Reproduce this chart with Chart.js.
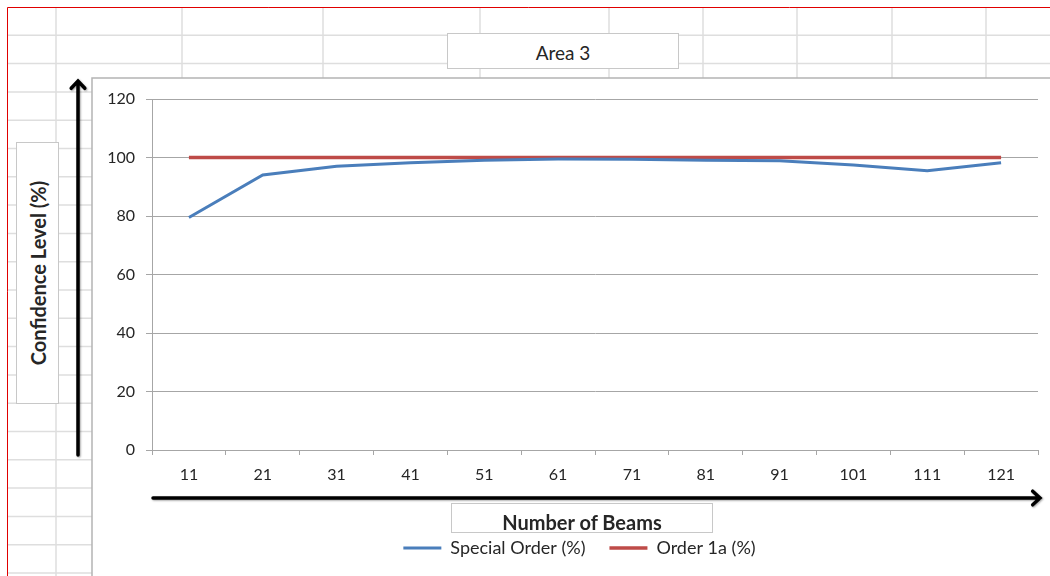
<!DOCTYPE html>
<html>
<head>
<meta charset="utf-8">
<script src="https://cdn.jsdelivr.net/npm/chart.js@4.4.0/dist/chart.umd.min.js"></script>
<style>
    html, body { margin: 0; padding: 0; background: #fff; }
    #wrap { position: relative; width: 1050px; height: 576px; overflow: hidden; font-family: Lato, "Open Sans", sans-serif; }
    #chart { position: absolute; left: 0; top: 0; }
    .box { position: absolute; background: #fff; border: 1px solid #c8c8c8; color: #262626; text-align: center; box-sizing: border-box; }
    #title { left: 447px; top: 33px; width: 232px; height: 36px; line-height: 38px; font-size: 19px; }
    #ylab { left: 16px; top: 142px; width: 43px; height: 262px; }
    #ylab span { position: absolute; left: 50%; top: 50%; transform: translate(-50%, -50%) rotate(-90deg); white-space: nowrap; font-size: 20px; font-weight: bold; }
    #xlab { left: 451px; top: 503px; width: 262px; height: 30px; line-height: 37px; font-size: 20px; font-weight: bold; }
</style>
</head>
<body>
<div id="wrap">
    <canvas id="chart" width="1050" height="576"></canvas>
    <div class="box" id="title">Area 3</div>
    <div class="box" id="ylab"><span>Confidence Level (%)</span></div>
    <div class="box" id="xlab">Number of Beams</div>
</div>
<script>
// data
var beams = ['11', '21', '31', '41', '51', '61', '71', '81', '91', '101', '111', '121'];
var specialOrder = [79.5, 94, 97, 98.2, 99.1, 99.5, 99.4, 99.1, 98.9, 97.4, 95.5, 98.2];
var order1a = [100, 100, 100, 100, 100, 100, 100, 100, 100, 100, 100, 100];
var yMin = 0, yMax = 120, yStep = 20;

var BLUE = '#4a7ebb';
var RED = '#be4b48';
var GRID = '#a6a6a6';

// spreadsheet cells behind the chart object
var sheetCols = [56, 182, 323, 480, 609, 703, 797, 892, 986];
var rowH = 28.3;

var sheetBackground = {
    id: 'sheetBackground',
    beforeDraw: function(chart) {
        var ctx = chart.ctx;
        ctx.save();
        ctx.fillStyle = '#fff';
        ctx.fillRect(0, 0, chart.width, chart.height);
        ctx.strokeStyle = '#dedede';
        ctx.lineWidth = 1.5;
        for (var y = 7 + rowH; y < chart.height; y += rowH) {
            ctx.beginPath();
            ctx.moveTo(7, y);
            ctx.lineTo(chart.width, y);
            ctx.stroke();
        }
        sheetCols.forEach(function(x) {
            ctx.beginPath();
            ctx.moveTo(x, 7);
            ctx.lineTo(x, chart.height);
            ctx.stroke();
        });
        // red selection border
        ctx.strokeStyle = '#e00000';
        ctx.lineWidth = 1;
        ctx.beginPath();
        ctx.moveTo(7.5, chart.height);
        ctx.lineTo(7.5, 7.5);
        ctx.lineTo(chart.width, 7.5);
        ctx.stroke();
        // chart object frame
        ctx.fillStyle = '#fff';
        ctx.fillRect(92, 78, chart.width, chart.height);
        ctx.strokeStyle = '#b4b4b4';
        ctx.lineWidth = 1.5;
        ctx.strokeRect(92, 78, chart.width, chart.height);
        ctx.restore();
    }
};

// legend sits a little right of the plot centre in the original
var legendShift = {
    id: 'legendShift',
    afterLayout: function(chart) {
        var centre = 579.5;
        var lg = chart.legend;
        var d = centre - (lg.left + lg.right) / 2;
        lg.left += d;
        lg.right += d;
    }
};

function arrow(ctx, x1, y1, x2, y2) {
    var a = Math.atan2(y2 - y1, x2 - x1);
    var h = 10;
    ctx.beginPath();
    ctx.moveTo(x1, y1);
    ctx.lineTo(x2, y2);
    ctx.moveTo(x2 - h * Math.cos(a - 0.75), y2 - h * Math.sin(a - 0.75));
    ctx.lineTo(x2, y2);
    ctx.lineTo(x2 - h * Math.cos(a + 0.75), y2 - h * Math.sin(a + 0.75));
    ctx.stroke();
}

var axisArrows = {
    id: 'axisArrows',
    afterDraw: function(chart) {
        var ctx = chart.ctx;
        var area = chart.chartArea;
        ctx.save();
        ctx.strokeStyle = '#000';
        ctx.lineWidth = 3.5;
        ctx.lineCap = 'round';
        ctx.shadowColor = 'rgba(0,0,0,0.35)';
        ctx.shadowBlur = 2;
        ctx.shadowOffsetX = 1;
        ctx.shadowOffsetY = 1;
        arrow(ctx, 78, area.bottom + 5, 78, 81);
        arrow(ctx, area.left + 1, area.bottom + 48, area.right + 2, area.bottom + 48);
        ctx.restore();
    }
};

new Chart(document.getElementById('chart'), {
    type: 'line',
    data: {
        labels: beams,
        datasets: [{
            label: 'Special Order (%)',
            data: specialOrder,
            borderColor: BLUE,
            backgroundColor: BLUE,
            borderWidth: 3,
            pointRadius: 0,
            tension: 0
        }, {
            label: 'Order 1a (%)',
            data: order1a,
            borderColor: RED,
            backgroundColor: RED,
            borderWidth: 3.5,
            pointRadius: 0,
            tension: 0
        }]
    },
    options: {
        responsive: false,
        animation: false,
        layout: {
            padding: { left: 98, right: 12, top: 99, bottom: 9 }
        },
        plugins: {
            title: { display: false },
            tooltip: { enabled: false },
            legend: {
                position: 'bottom',
                labels: {
                    boxWidth: 38,
                    boxHeight: 0,
                    padding: 24,
                    color: '#262626',
                    font: { family: 'Lato', size: 18 }
                }
            }
        },
        scales: {
            x: {
                offset: true,
                grid: {
                    offset: true,
                    drawOnChartArea: false,
                    color: GRID,
                    tickLength: 5
                },
                border: { display: true, color: GRID },
                ticks: {
                    padding: 10,
                    color: '#262626',
                    font: { family: 'Lato', size: 16 },
                    maxRotation: 0
                },
                afterFit: function(scale) { scale.height = 65; }
            },
            y: {
                min: yMin,
                max: yMax,
                ticks: {
                    stepSize: yStep,
                    padding: 11,
                    color: '#262626',
                    font: { family: 'Lato', size: 16 }
                },
                grid: { color: GRID, tickLength: 6 },
                border: { display: true, color: GRID },
                afterFit: function(scale) { scale.width = 54; }
            }
        }
    },
    plugins: [sheetBackground, legendShift, axisArrows]
});
</script>
</body>
</html>
